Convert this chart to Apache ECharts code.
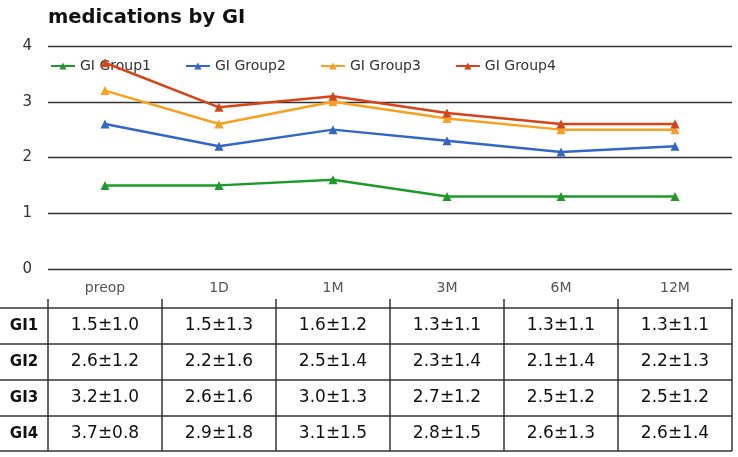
<!DOCTYPE html>
<html>
<head>
<meta charset="utf-8">
<script src="https://cdn.jsdelivr.net/npm/echarts@6/dist/echarts.min.js"></script>
<style>
html,body{margin:0;padding:0;background:#fff;}
#chart{width:738px;height:457px;}
</style>
</head>
<body>
<div id="chart"></div>
<script>
const categories = ['preop', '1D', '1M', '3M', '6M', '12M'];
const seriesNames = ['GI Group1', 'GI Group2', 'GI Group3', 'GI Group4'];
const rowLabels = ['GI1', 'GI2', 'GI3', 'GI4'];
const g1Mean = [1.5, 1.5, 1.6, 1.3, 1.3, 1.3];
const g2Mean = [2.6, 2.2, 2.5, 2.3, 2.1, 2.2];
const g3Mean = [3.2, 2.6, 3.0, 2.7, 2.5, 2.5];
const g4Mean = [3.7, 2.9, 3.1, 2.8, 2.6, 2.6];
const g1Sd = [1.0, 1.3, 1.2, 1.1, 1.1, 1.1];
const g2Sd = [1.2, 1.6, 1.4, 1.4, 1.4, 1.3];
const g3Sd = [1.0, 1.6, 1.3, 1.2, 1.2, 1.2];
const g4Sd = [0.8, 1.8, 1.5, 1.5, 1.3, 1.4];
const yTicks = [0, 1, 2, 3, 4];

const means = [g1Mean, g2Mean, g3Mean, g4Mean];
const sds = [g1Sd, g2Sd, g3Sd, g4Sd];
const colors = ['#1f9a2a', '#3466c8', '#f8a020', '#d84318'];
const FONT = 'DejaVu Sans, Verdana, sans-serif';

const chart = echarts.init(document.getElementById('chart'), null, {renderer: 'canvas'});

const option = {
  animation: false,
  backgroundColor: '#fff',
  title: {
    text: 'medications by GI',
    left: 43, top: 3,
    textStyle: {fontFamily: FONT, fontSize: 19.5, fontWeight: 'bold', color: '#111'}
  },
  legend: {
    data: seriesNames,
    left: 45, top: 54,
    itemWidth: 24, itemHeight: 9, itemGap: 34,
    textStyle: {fontFamily: FONT, fontSize: 14, color: '#333'}
  },
  grid: {left: 48, right: 6, top: 46, height: 223, containLabel: false},
  xAxis: {
    type: 'category',
    data: categories,
    boundaryGap: true,
    axisLine: {show: false},
    axisTick: {show: false},
    axisLabel: {fontFamily: FONT, fontSize: 14, color: '#555', margin: 12}
  },
  yAxis: {
    type: 'value',
    min: yTicks[0], max: yTicks[yTicks.length - 1], interval: 1,
    axisLine: {show: false},
    axisTick: {show: false},
    axisLabel: {fontFamily: FONT, fontSize: 15, color: '#333', margin: 16},
    splitLine: {lineStyle: {color: '#333', width: 1.3}}
  },
  series: means.map((m, i) => ({
    name: seriesNames[i],
    type: 'line',
    data: m,
    symbol: 'triangle',
    symbolSize: 9,
    showAllSymbol: true,
    itemStyle: {color: colors[i]},
    lineStyle: {color: colors[i], width: 2.5},
    z: 2 + i
  }))
};
chart.setOption(option);

// Table under the chart, aligned with the category axis
function buildTable() {
  const centers = categories.map((c, i) => chart.convertToPixel({xAxisIndex: 0}, i));
  const band = centers[1] - centers[0];
  const left0 = centers[0] - band / 2;
  const right0 = centers[centers.length - 1] + band / 2;
  const tableTop = 308, rowH = 36;
  const lineColor = '#333';
  const els = [];
  for (let r = 0; r <= rowLabels.length; r++) {
    const y = tableTop + r * rowH - (r === rowLabels.length ? 1 : 0);
    els.push({type: 'line', shape: {x1: 0, y1: y, x2: right0, y2: y},
      style: {stroke: lineColor, lineWidth: 1.5}, silent: true});
  }
  for (let c = 0; c <= categories.length; c++) {
    const x = left0 + c * band;
    els.push({type: 'line', shape: {x1: x, y1: tableTop - 9, x2: x, y2: tableTop + rowLabels.length * rowH - 1},
      style: {stroke: lineColor, lineWidth: 1.5}, silent: true});
  }
  rowLabels.forEach((lab, r) => {
    const cy = tableTop + r * rowH + rowH / 2;
    els.push({type: 'text', x: left0 / 2, y: cy,
      style: {text: lab, fontFamily: FONT, fontSize: 15, fontWeight: 'bold', fill: '#111', align: 'center', verticalAlign: 'middle'}});
    centers.forEach((cx, c) => {
      els.push({type: 'text', x: cx, y: cy,
        style: {text: means[r][c].toFixed(1) + '±' + sds[r][c].toFixed(1),
          fontFamily: FONT, fontSize: 17, fill: '#111', align: 'center', verticalAlign: 'middle'}});
    });
  });
  chart.setOption({graphic: {elements: els}});
}
buildTable();
</script>
</body>
</html>
